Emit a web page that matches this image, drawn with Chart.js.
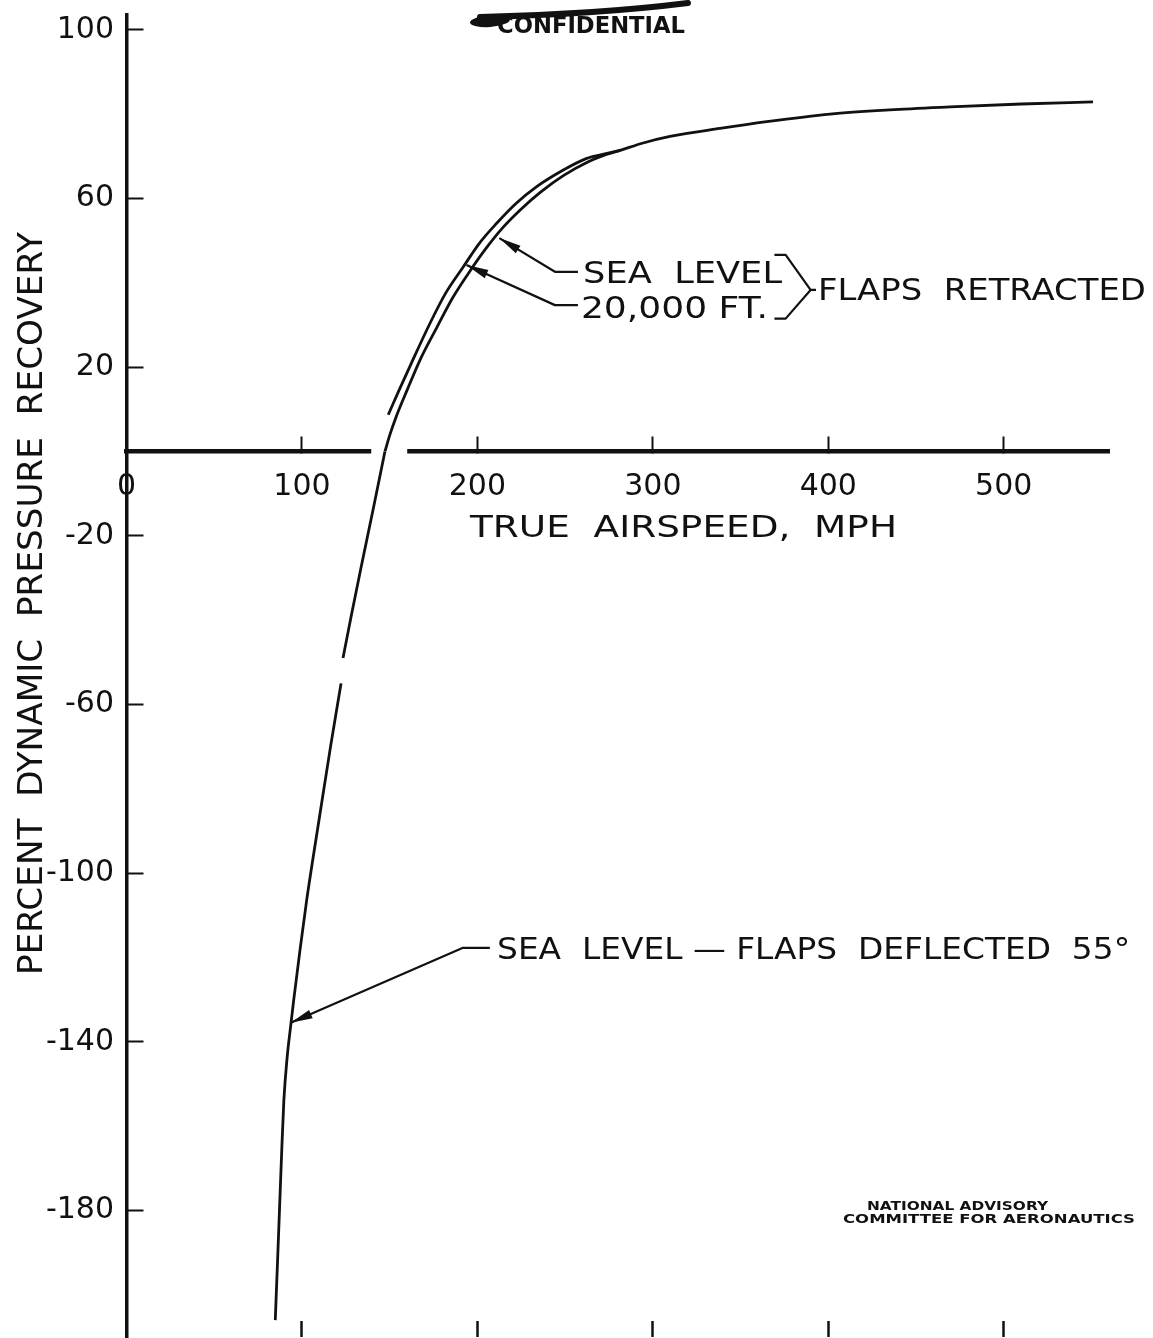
<!DOCTYPE html>
<html>
<head>
<meta charset="utf-8">
<title>Percent dynamic pressure recovery vs true airspeed</title>
<script src="https://cdn.jsdelivr.net/npm/chart.js@4.4.1/dist/chart.umd.min.js"></script>
<style>
  html, body { margin: 0; padding: 0; background: #fff; }
  #wrap { width: 1153px; height: 1338px; }
</style>
</head>
<body>
<div id="wrap"><canvas id="recoveryChart" width="1153" height="1338"></canvas></div>
<script>
/* ═══════════════════════════════════════
   Dynamic pressure recovery — NACA figure
   ═══════════════════════════════════════ */

// ── Sea level, flaps retracted ──
const seaLevelSpeed = [147.3, 150, 153.4, 160, 168, 177, 186, 195.8, 205, 214.1, 225, 236, 249, 263.2, 272, 281.4, 295, 309.8, 338.3, 364.9, 401, 435, 469.4, 510, 550.9];
const seaLevelRecovery = [0, 3.8, 7.9, 14.6, 22.3, 29.5, 36.5, 42.8, 48.2, 52.9, 57.5, 61.5, 65.4, 68.7, 70.2, 71.4, 73.2, 74.7, 76.6, 78.2, 80.0, 81.0, 81.7, 82.4, 82.9];

// ── 20,000 ft, flaps retracted ──
const alt20kSpeed = [149.2, 155, 162, 173, 182, 192, 201, 211, 222, 233.8, 248, 262.3, 272, 281.4];
const alt20kRecovery = [8.7, 14.2, 20.6, 30.4, 37.6, 43.8, 49.3, 54.1, 58.8, 62.8, 66.5, 69.5, 70.5, 71.4];

// ── Sea level, flaps deflected 55° (null = break in the inked line) ──
const flapsSpeed = [147.3, 140.5, 133.8, 128.0, 123.4, 122.9, 122.3, 116.3, 109.5, 102.7, 98.9, 95.3, 93.5, 91.6, 89.7, 88.5, 87.2, 85.9, 84.8];
const flapsRecovery = [0, -13.9, -27.3, -39.2, -49.0, null, -55.0, -70.0, -88.0, -106.4, -118.2, -130.1, -136.5, -143.5, -153.8, -165.6, -179.9, -194.1, -206.0];

// ── Axis ticks ──
const xTickValues = [0, 100, 200, 300, 400, 500];
const bottomTickValues = [100, 200, 300, 400, 500];
const yTickValues = [100, 60, 20, -20, -60, -100, -140, -180];

const INK = '#111111';
const FONT = "'DejaVu Sans', 'Liberation Sans', sans-serif";

const toPoints = (xs, ys) => xs.map((x, i) => ({ x, y: ys[i] }));

// text placed by its left edge and cap-height middle, squeezed to a given width
function capText(ctx, text, left, capMid, size, width, weight) {
  ctx.save();
  ctx.font = `${weight || 'normal'} ${size}px ${FONT}`;
  ctx.textAlign = 'left';
  ctx.textBaseline = 'alphabetic';
  const w = ctx.measureText(text).width;
  ctx.translate(left, capMid + size * 0.3645);
  ctx.scale(width / w, 1);
  ctx.fillText(text, 0, 0);
  ctx.restore();
}

// polyline ending in a filled arrowhead
function leader(ctx, pts) {
  ctx.beginPath();
  ctx.moveTo(pts[0][0], pts[0][1]);
  pts.slice(1).forEach(p => ctx.lineTo(p[0], p[1]));
  ctx.stroke();
  const [ax, ay] = pts[pts.length - 2];
  const [tx, ty] = pts[pts.length - 1];
  const a = Math.atan2(ty - ay, tx - ax);
  const len = 22, half = 4.5;
  ctx.beginPath();
  ctx.moveTo(tx, ty);
  ctx.lineTo(tx - len * Math.cos(a) + half * Math.sin(a), ty - len * Math.sin(a) - half * Math.cos(a));
  ctx.lineTo(tx - len * Math.cos(a) - half * Math.sin(a), ty - len * Math.sin(a) + half * Math.cos(a));
  ctx.closePath();
  ctx.fill();
}

const paperNotes = {
  id: 'paperNotes',

  // the drafted zero line is broken where the curve passes through it
  beforeDatasetsDraw(chart) {
    const { ctx, scales: { x, y } } = chart;
    const y0 = y.getPixelForValue(0);
    ctx.save();
    ctx.fillStyle = '#fff';
    ctx.fillRect(x.getPixelForValue(139.5), y0 - 5, x.getPixelForValue(160) - x.getPixelForValue(139.5), 10);
    ctx.restore();
  },

  afterDraw(chart) {
    const { ctx, scales: { x, y } } = chart;
    const P = (vx, vy) => [x.getPixelForValue(vx), y.getPixelForValue(vy)];
    ctx.save();
    ctx.strokeStyle = INK;
    ctx.fillStyle = INK;
    ctx.lineWidth = 2.2;
    ctx.lineJoin = 'round';

    // ── axis titles ──
    capText(ctx, 'TRUE  AIRSPEED,  MPH', 470, 526, 30, 427);
    ctx.save();
    ctx.translate(30, 975);
    ctx.rotate(-Math.PI / 2);
    capText(ctx, 'PERCENT  DYNAMIC  PRESSURE  RECOVERY', 0, 0, 33, 743);
    ctx.restore();

    // ── flaps retracted labels ──
    leader(ctx, [P(257.3, 42.6), P(244.2, 42.6), P(212.5, 50.6)]);
    leader(ctx, [P(257.3, 34.7), P(244.2, 34.7), P(193.8, 44.2)]);
    let [l, m] = P(260.2, 42.5);
    capText(ctx, 'SEA  LEVEL', l, m, 30, 199);
    [l, m] = P(259.0, 34.3);
    capText(ctx, '20,000 FT.', l, m, 30, 187);

    ctx.beginPath();
    [P(369.3, 46.6), P(375.7, 46.6), P(389.9, 38.3), P(375.7, 31.5), P(369.3, 31.5)]
      .forEach((p, i) => (i ? ctx.lineTo(p[0], p[1]) : ctx.moveTo(p[0], p[1])));
    ctx.moveTo(...P(389.9, 38.3));
    ctx.lineTo(...P(393.0, 38.3));
    ctx.stroke();
    [l, m] = P(394.1, 38.4);
    capText(ctx, 'FLAPS  RETRACTED', l, m, 30, 328);

    // ── flaps deflected label ──
    leader(ctx, [P(207.1, -117.7), P(191.8, -117.7), P(93.6, -135.5)]);
    [l, m] = P(211.2, -117.7);
    capText(ctx, 'SEA  LEVEL \u2014 FLAPS  DEFLECTED  55\u00B0', l, m, 30, 633);

    // ── stamp ──
    ctx.beginPath();
    ctx.ellipse(490, 21, 20, 6, -0.08, 0, Math.PI * 2);
    ctx.fill();
    ctx.lineCap = 'round';
    ctx.lineWidth = 6;
    ctx.beginPath();
    ctx.moveTo(480, 17);
    ctx.quadraticCurveTo(600, 14, 688, 3);
    ctx.stroke();
    capText(ctx, 'CONFIDENTIAL', 497, 25, 23, 188, 'bold');

    // ── credit ──
    capText(ctx, 'NATIONAL ADVISORY', 867, 1205, 13, 181, 'bold');
    capText(ctx, 'COMMITTEE FOR AERONAUTICS', 843, 1218.5, 13, 292, 'bold');
    ctx.restore();
  }
};

const lineStyle = {
  borderColor: INK,
  borderWidth: 2.8,
  pointRadius: 0,
  fill: false,
  spanGaps: false,
  cubicInterpolationMode: 'monotone',
};

const tickFont = { family: FONT, size: 30, lineHeight: 1.2 };

new Chart(document.getElementById('recoveryChart'), {
  type: 'line',
  data: {
    datasets: [
      { label: 'Sea level', data: toPoints(seaLevelSpeed, seaLevelRecovery), ...lineStyle },
      { label: '20,000 ft.', data: toPoints(alt20kSpeed, alt20kRecovery), ...lineStyle },
      { label: 'Sea level - flaps deflected 55°', data: toPoints(flapsSpeed, flapsRecovery), ...lineStyle },
    ]
  },
  options: {
    responsive: false,
    animation: false,
    devicePixelRatio: 1,
    layout: { padding: { top: 15, right: 44, bottom: 1, left: 0 } },
    plugins: {
      legend: { display: false },
      tooltip: { enabled: false },
    },
    scales: {
      x: {
        type: 'linear',
        min: 0,
        max: 560,
        position: { y: 0 },
        afterBuildTicks: s => { s.ticks = xTickValues.map(v => ({ value: v })); },
        afterFit: s => { s.height = 0; s.paddingLeft = 0; s.paddingRight = 0; },
        border: { display: true, color: INK, width: 4.5 },
        grid: { drawOnChartArea: false, tickLength: -17, tickWidth: 2, tickColor: INK },
        ticks: { color: INK, font: tickFont, padding: 34.5, maxRotation: 0, autoSkip: false },
      },
      xBottom: {
        type: 'linear',
        axis: 'x',
        min: 0,
        max: 560,
        position: 'bottom',
        afterBuildTicks: s => { s.ticks = bottomTickValues.map(v => ({ value: v })); },
        afterFit: s => { s.height = 0; s.paddingLeft = 0; s.paddingRight = 0; },
        border: { display: false },
        grid: { drawOnChartArea: false, tickLength: -16, tickWidth: 2.5, tickColor: INK },
        ticks: { display: false },
      },
      y: {
        type: 'linear',
        min: -210,
        max: 103.5,
        position: 'left',
        afterBuildTicks: s => { s.ticks = yTickValues.map(v => ({ value: v })); },
        afterFit: s => { s.width = 126.5; s.paddingTop = 0; s.paddingBottom = 0; },
        border: { display: true, color: INK, width: 3.5 },
        grid: { drawOnChartArea: false, tickLength: -17, tickWidth: 2, tickColor: INK },
        ticks: { color: INK, font: tickFont, padding: 29.5, autoSkip: false },
      },
    }
  },
  plugins: [paperNotes],
});
</script>
</body>
</html>
